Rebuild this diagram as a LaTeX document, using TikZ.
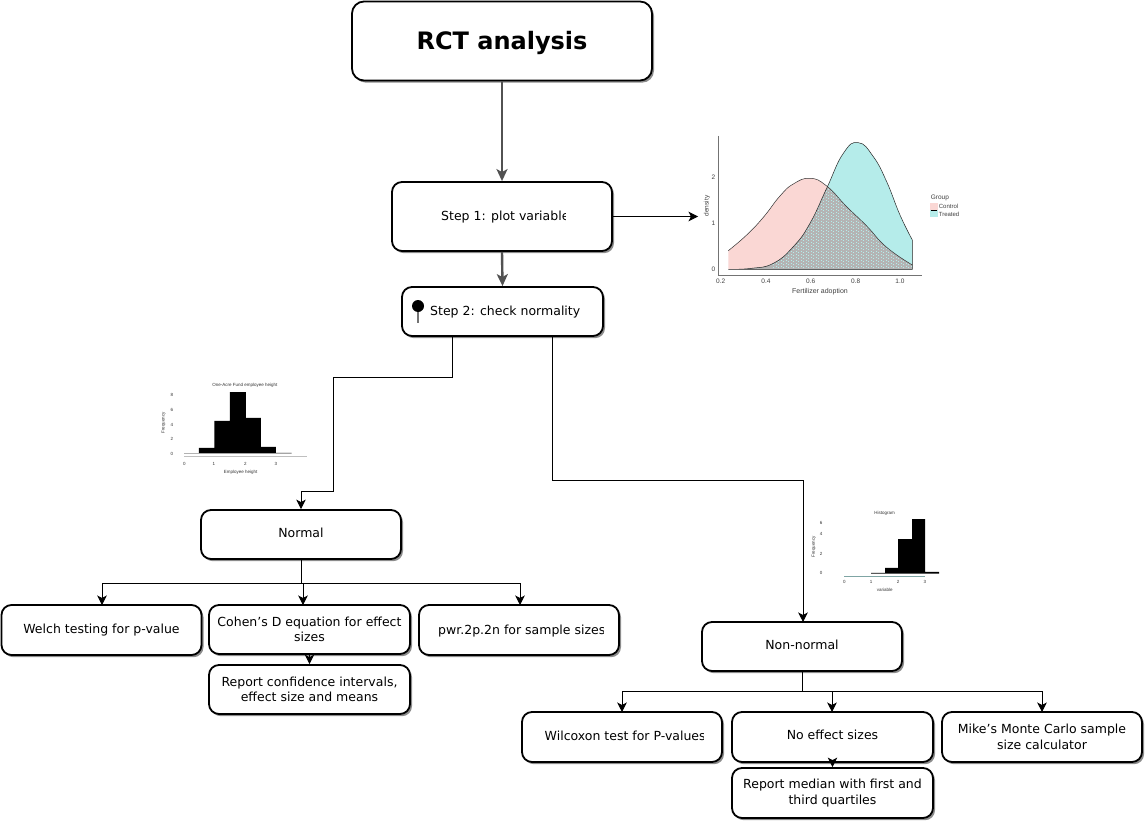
\documentclass[tikz,border=0pt]{standalone}
\usepackage{fontspec}
\setmainfont{DejaVu Sans}
\newfontfamily\plotfont{Liberation Sans}
\usetikzlibrary{arrows.meta,shadows}
\definecolor{ctrlpink}{HTML}{FAD7D4}
\definecolor{treatteal}{HTML}{B5ECEA}
\definecolor{overlapgray}{HTML}{B4B4B4}
\tikzset{
  x=1pt,y=-1pt,
  boxbase/.style={draw=black,line width=1.8pt,rounded corners=10pt,fill=white,align=center,
    inner sep=0pt,font=\fontsize{12.5}{15.5}\selectfont,
    drop shadow={shadow xshift=2pt,shadow yshift=-2.2pt,opacity=.45,fill=black}},
  titlebox/.style={boxbase,rounded corners=12pt,minimum width=300pt,minimum height=79pt,
    font=\fontsize{24}{30}\selectfont\bfseries},
  wbox/.style={boxbase,minimum width=200pt,minimum height=49pt},
  mainconn/.style={draw=black!68,line width=2.4pt,-{Stealth[length=12pt,width=11pt,inset=3pt]}},
  conn/.style={draw=black,line width=.85pt},
  connarrow/.style={conn,-{Stealth[length=9.5pt,width=9.5pt,inset=2.5pt]}},
  boxtext/.style={font=\fontsize{12.5}{15.5}\selectfont,inner sep=0pt,anchor=base west},
  tick/.style={font=\plotfont\fontsize{6.5}{7}\selectfont,text=black!75,inner sep=0pt},
  tiny/.style={font=\plotfont\fontsize{4.5}{5}\selectfont,text=black!80,inner sep=0pt},
  curve/.style={smooth,tension=.8},
}
\begin{document}
\begin{tikzpicture}
\useasboundingbox (0,0) rectangle (1145,821);
\fill[white] (0,0) rectangle (1145,821);

% boxes
\node[titlebox,text height=24pt,text depth=6pt] (title) at (502,41) {RCT analysis};
\node[wbox,minimum width=220pt,minimum height=69pt] (s1) at (502,216.5) {};
\begin{scope}
  \clip (430,200) rectangle (565,232);
  \node[boxtext] (s1t) at (441,220) {Step 1: plot variable};
\end{scope}
\node[wbox,minimum width=201pt] (s2) at (502.5,311.5) {};
\node[boxtext] (s2t) at (430,315) {Step 2: check normality};
\node[fill=black,circle,minimum size=12pt,inner sep=0pt] (pin) at (418,306) {};
\draw[draw=black!55,line width=1.5pt] (pin.south) -- (418,323);

\node[wbox,text height=10pt,text depth=5pt] (n) at (301,534.5) {Normal};
\node[wbox,minimum height=50pt] (welch) at (101.5,630) {Welch testing for p-value};
\node[wbox,minimum width=201pt] (cohen) at (309.5,629.5) {Cohen's D equation for effect\\sizes};
\node[wbox,minimum height=50pt] (pwr) at (519,630) {};
\begin{scope}
  \clip (430,615) rectangle (603.5,645);
  \node[boxtext] (pwrt) at (438,634) {pwr.2p.2n for sample sizes};
\end{scope}
\node[wbox,minimum width=201pt] (rep) at (309.5,689.5) {Report confidence intervals,\\effect size and means};

\node[wbox,text height=10pt,text depth=5pt] (nn) at (802,646.5) {Non-normal};
\node[wbox,minimum height=50pt] (wil) at (622,737) {};
\begin{scope}
  \clip (535,722) rectangle (703.5,752);
  \node[boxtext] (wilt) at (544.5,740) {Wilcoxon test for P-values};
\end{scope}
\node[wbox,minimum width=201pt,minimum height=50pt,text height=10pt,text depth=5pt] (noeff) at (832.5,737) {No effect sizes};
\node[wbox,minimum height=50pt] (mike) at (1042,737) {Mike's Monte Carlo sample\\size calculator};
\node[wbox,minimum width=201pt,minimum height=50pt] (med) at (832.5,793) {Report median with first and\\third quartiles};

% connectors
\draw[mainconn] (title.south) -- (s1.north);
\draw[mainconn] (s1.south) -- (s2.north);
\coordinate (plotin) at (698,216.5);
\draw[connarrow] (s1.east) -- (plotin);
\draw[connarrow] ([xshift=-50pt]s2.south) |- (333,377) |- (301,491) -- (n.north);
\draw[connarrow] ([xshift=50pt]s2.south) |- (803,480) -- (803,622);
\coordinate (nj) at (301,583);
\draw[conn] (n.south) -- (nj);
\draw[connarrow] (nj) -| (102,605);
\draw[connarrow] (nj) -| (303,605);
\draw[connarrow] (nj) -| (520,605);
\draw[connarrow] (cohen.south) -- (rep.north);
\coordinate (nnj) at (802,691);
\draw[conn] (nn.south) -- (nnj);
\draw[connarrow] (nnj) -| (622,712);
\draw[connarrow] (nnj) -| (832,712);
\draw[connarrow] (nnj) -| (1042,712);
\draw[connarrow] (noeff.south) -- (med.north);

% density plot
\begin{scope}[shift={(680pt,-120pt)},x=.3333pt,y=-.3333pt]
  \def\ctrl{(145,392) (200,345) (250,292) (300,228) (340,192) (390,175) (440,198) (500,260) (560,318) (620,382) (697,435)}
  \def\treat{(145,448) (215,445) (280,430) (340,380) (390,310) (440,205) (490,100) (535,68) (580,110) (620,185) (660,285) (697,360)}
  \fill[ctrlpink] (145,448) -- plot[curve] coordinates {\ctrl} -- (697,448) -- cycle;
  \fill[treatteal] plot[curve] coordinates {\treat} -- (697,448) -- cycle;
  \begin{scope}
    \clip (145,448) -- plot[curve] coordinates {\ctrl} -- (697,448) -- cycle;
    \clip plot[curve] coordinates {\treat} -- (697,448) -- cycle;
    \fill[overlapgray] (145,60) rectangle (700,450);
    \foreach \i in {0,...,28} \foreach \j in {0,...,30}
      \fill[treatteal] (280+\i*15,190+\j*9) rectangle ++(3,3);
    \foreach \i in {0,...,28} \foreach \j in {0,...,30}
      \fill[treatteal] (287.5+\i*15,194.5+\j*9) rectangle ++(3,3);
  \end{scope}
  \draw[black!80,line width=.5pt] plot[curve] coordinates {\ctrl};
  \draw[black!85,line width=.5pt] plot[curve] coordinates {\treat} -- (697,448) -- (145,448);
  \draw[black!55,line width=.7pt] (115,48) -- (115,465) -- (725,465);
  \foreach \v/\px in {0.2/122,0.4/258,0.6/392,0.8/527,1.0/660}
    \node[tick] at (\px,484) {\v};
  \foreach \v/\py in {0/448,1/310,2/172}
    \node[tick] at (100,\py) {\v};
  \node[tick,rotate=90] at (81,258) {density};
  \node[tick,font=\plotfont\fontsize{7}{8}\selectfont] at (420,514) {Fertilizer adoption};
  \node[tick,anchor=west] at (752,235) {Group};
  \fill[ctrlpink] (751,250) rectangle (773,270);
  \fill[treatteal] (751,270) rectangle (773,291);
  \draw[black,line width=.7pt] (753,270) -- (771,270);
  \node[tick,anchor=west,font=\plotfont\fontsize{6}{7}\selectfont] at (776,260) {Control};
  \node[tick,anchor=west,font=\plotfont\fontsize{6}{7}\selectfont] at (776,282) {Treated};
\end{scope}

% left histogram
\begin{scope}[shift={(150pt,-370pt)},x=.3333pt,y=-.3333pt]
  \fill[black] (147,250) |- (193,234) |- (240,153) |- (288,66) |- (333,144) |- (378,231) |- (425,249) |- cycle;
  \draw[black!30,line width=.8pt] (103,250) -- (147,250);
  \draw[black!25,line width=.6pt] (103,258) -- (470,258);
  \node[tiny] at (285,45) {One-Acre Fund employee height};
  \foreach \v/\px in {0/103,1/192,2/286,3/378} \node[tiny] at (\px,281) {\v};
  \foreach \v/\py in {0/252,2/207,4/165,6/120,8/76} \node[tiny] at (66,\py) {\v};
  \node[tiny,rotate=90] at (41,158) {Frequency};
  \node[tiny] at (272,306) {Employee height};
\end{scope}

% right histogram
\begin{scope}[shift={(810pt,-500pt)},x=.3333pt,y=-.3333pt]
  \fill[black] (183,221) |- (225,219) |- (264,204) |- (306,117) |- (345,57) |- (387,216) |- cycle;
  \draw[black!30!treatteal,line width=.8pt] (103,229) -- (345,229);
  \node[tiny] at (224,40) {Histogram};
  \foreach \v/\px in {0/103,1/183,2/264,3/345} \node[tiny] at (\px,246) {\v};
  \foreach \v/\py in {0/220,2/163,4/103,6/70} \node[tiny] at (33,\py) {\v};
  \node[tiny,rotate=90] at (11,140) {Frequency};
  \node[tiny] at (224,270) {variable};
\end{scope}
\end{tikzpicture}
\end{document}
